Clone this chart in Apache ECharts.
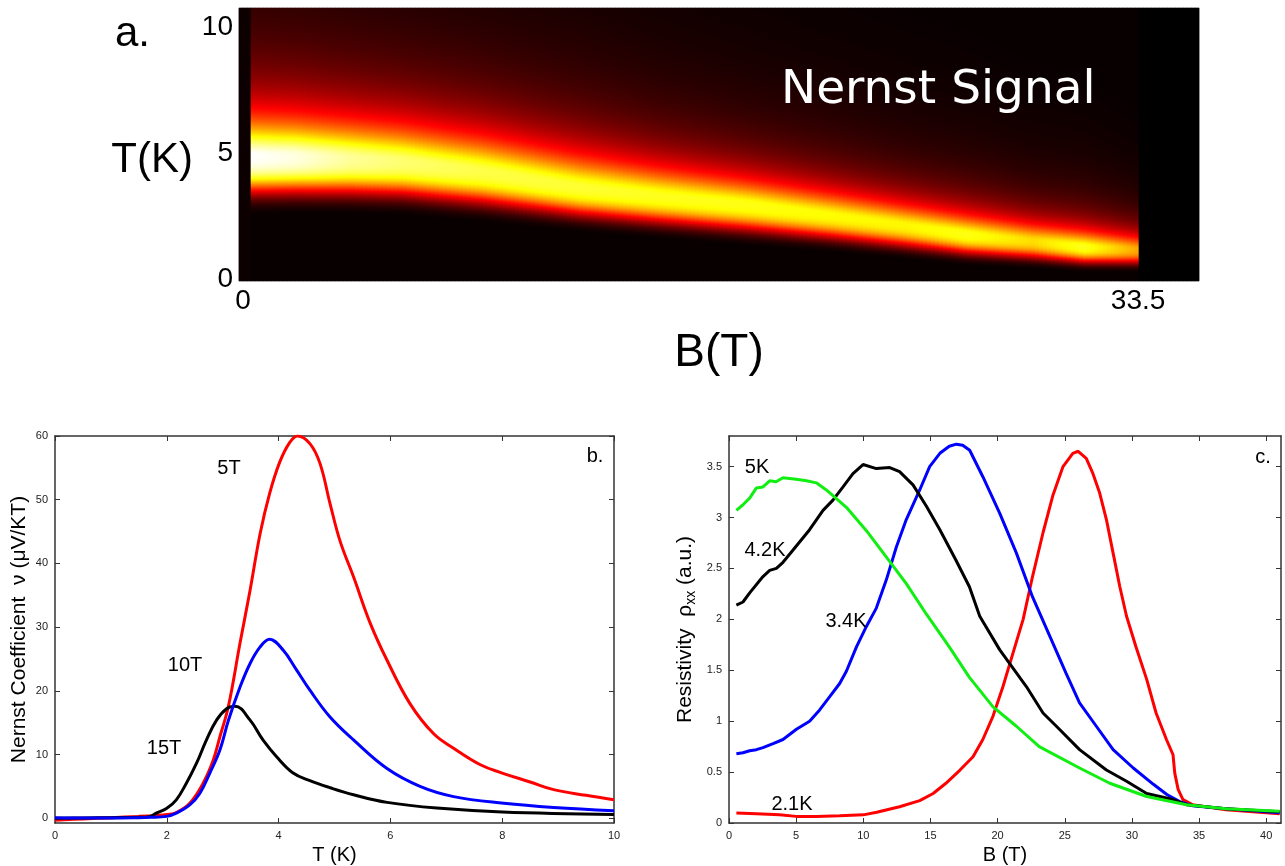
<!DOCTYPE html>
<html>
<head>
<meta charset="utf-8">
<script src="https://cdn.jsdelivr.net/npm/echarts@6/dist/echarts.min.js"></script>
<style>
  html, body { margin: 0; padding: 0; background: #ffffff; }
  #chart { width: 1285px; height: 866px; }
</style>
</head>
<body>
<div id="chart"></div>
<script>
// ---------- Panel a: Nernst signal map, ridge profile along B ----------
const ridgeB     = [0.3, 2, 4, 6, 9, 12.6, 15.5, 18.9, 22, 24.8, 27.1, 29.6, 31.5, 33.5];
const ridgeT     = [4.95, 4.93, 4.86, 4.74, 4.36, 3.72, 3.38, 3.02, 2.6, 2.2, 1.83, 1.56, 1.32, 1.22];
const ridgePeak  = [1.0, 0.97, 0.9, 0.86, 0.82, 0.8, 0.78, 0.77, 0.75, 0.74, 0.77, 0.7, 0.78, 0.62];
const ridgeUpper = [1.39, 1.38, 1.37, 1.35, 1.32, 1.25, 1.12, 1.0, 0.92, 0.84, 0.78, 0.72, 0.66, 0.6];
const ridgeLower = [1.45, 1.43, 1.4, 1.36, 1.3, 1.15, 1.1, 1.05, 0.95, 0.88, 0.8, 0.72, 0.65, 0.6];
const mapBTicks  = [0, 33.5];
const mapTTicks  = [0, 5, 10];

// ---------- Panel b: Nernst coefficient vs T ----------
const nu5T = [[0,-0.3],[0.5,-0.1],[1,0.1],[1.5,0.3],[1.8,0.45],[2.0,0.6],[2.17,0.9],[2.41,2.35],[2.65,5.5],[2.83,9.1],
  [2.95,12.8],[3.1,17.5],[3.31,27.5],[3.49,35.8],[3.67,44.7],[3.84,51],[4.02,55.9],[4.2,59],[4.34,60],[4.56,58.8],
  [4.74,55.7],[4.92,49.4],[5.1,43.5],[5.34,37.9],[5.64,30.6],[5.94,24.8],[6.35,18],[6.77,13.3],[7.13,11],[7.61,8.4],
  [8.0,7.1],[8.5,5.7],[8.92,4.5],[9.5,3.6],[10,2.9]];
const nu10T = [[0,0.1],[0.5,0.05],[1,0.05],[1.5,0.1],[1.69,0.15],[2.0,0.3],[2.17,0.8],[2.41,2.1],[2.59,3.9],[2.77,7.1],
  [2.95,10.7],[3.1,15.3],[3.31,20.6],[3.49,24.3],[3.67,26.9],[3.84,28.1],[4.08,26.4],[4.32,23.3],[4.56,20.1],[4.92,15.9],
  [5.34,12.3],[5.94,7.8],[6.53,5.0],[7.13,3.4],[8.03,2.35],[8.92,1.7],[10,1.2]];
const nu15T = [[0,0],[0.5,0.05],[1,0.1],[1.5,0.15],[1.69,0.25],[1.81,0.8],[2.0,1.57],[2.17,2.9],[2.35,5.5],[2.53,8.6],
  [2.71,12.3],[2.89,15.4],[3.07,17.2],[3.22,17.6],[3.49,15.4],[3.72,12.3],[3.96,9.7],[4.26,7.1],[4.56,5.9],[4.92,4.8],
  [5.34,3.7],[5.94,2.5],[6.83,1.6],[8,1.0],[10,0.6]];
const nernstTTicks = [0, 2, 4, 6, 8, 10];
const nernstYTicks = [0, 10, 20, 30, 40, 50, 60];

// ---------- Panel c: resistivity vs B ----------
const rho5K = [[0.55,3.07],[1.0,3.12],[1.54,3.19],[2.04,3.29],[2.53,3.30],[3.03,3.36],[3.5,3.35],[4.02,3.39],[5.0,3.375],
  [5.76,3.36],[6.5,3.34],[7.25,3.27],[8.74,3.1],[10.23,2.87],[11.72,2.61],[13.2,2.35],[14.7,2.05],[16.4,1.73],[17.9,1.43],
  [19.66,1.14],[21.4,0.95],[23.1,0.75],[26.1,0.54],[28.35,0.39],[31.1,0.26],[34.06,0.18],[37.0,0.14],[41,0.115]];
const rho42K = [[0.55,2.14],[1.04,2.17],[1.54,2.26],[2.53,2.42],[3.03,2.48],[3.53,2.50],[4.02,2.56],[4.77,2.68],[6.0,2.88],
  [7.0,3.07],[7.74,3.17],[8.49,3.30],[9.23,3.43],[9.98,3.52],[10.97,3.48],[11.97,3.49],[12.7,3.45],[13.7,3.32],[14.7,3.11],
  [15.7,2.88],[16.9,2.58],[17.9,2.32],[18.67,2.03],[20.16,1.70],[22.14,1.34],[23.38,1.08],[24.6,0.92],[26.1,0.72],
  [28.1,0.52],[29.6,0.41],[31.1,0.29],[33.06,0.23],[34.06,0.18],[37,0.14],[41,0.11]];
const rho34K = [[0.55,0.68],[1.04,0.69],[1.54,0.71],[2.04,0.72],[2.53,0.74],[3.28,0.78],[4.02,0.82],[5.02,0.92],[6.0,1.0],
  [6.75,1.11],[7.5,1.24],[8.24,1.37],[8.74,1.49],[9.49,1.73],[10.23,1.93],[10.97,2.11],[11.72,2.39],[12.46,2.71],
  [13.2,2.98],[14.2,3.27],[14.94,3.50],[15.7,3.63],[16.4,3.70],[16.93,3.72],[17.4,3.71],[17.92,3.66],[18.9,3.40],
  [20.16,3.04],[21.4,2.65],[22.6,2.22],[23.9,1.83],[25.1,1.47],[26.1,1.18],[27.35,0.95],[28.6,0.72],[30.1,0.54],
  [31.6,0.38],[32.6,0.28],[33.56,0.21],[34.5,0.17],[37,0.14],[41,0.1]];
const rho21K = [[0.55,0.098],[2.04,0.09],[3.77,0.08],[5.0,0.065],[6.5,0.065],[8.24,0.07],[10.0,0.08],[11.0,0.105],
  [12.7,0.16],[14.2,0.22],[15.2,0.29],[16.15,0.39],[17.2,0.52],[18.17,0.65],[18.9,0.82],[19.66,1.05],[20.4,1.34],
  [21.15,1.67],[21.9,2.0],[22.6,2.42],[23.38,2.85],[24.1,3.21],[24.87,3.50],[25.6,3.63],[26.0,3.65],[26.6,3.58],
  [27.1,3.43],[27.6,3.24],[28.1,2.98],[28.6,2.65],[29.1,2.32],[29.6,2.03],[30.3,1.73],[31.1,1.41],[31.8,1.08],
  [32.57,0.82],[33.06,0.67],[33.19,0.49],[33.44,0.33],[33.8,0.23],[34.5,0.18],[37,0.13],[41,0.09]];
const rhoBTicks = [0, 5, 10, 15, 20, 25, 30, 35, 40];
const rhoYTicks = [0, 0.5, 1, 1.5, 2, 2.5, 3, 3.5];

// ---------- map cell grid (4 px columns, 1 px rows) ----------
const MAP_B_RANGE = [-0.15, 35.78];
const MAP_T_RANGE = [-0.08, 10.78];
const MAP_COLS = 240, MAP_ROWS = 273;

function ridgeParam(arr, b) {
  for (let k = 0; k < ridgeB.length - 1; k++) {
    if (b <= ridgeB[k + 1]) {
      const f = (b - ridgeB[k]) / (ridgeB[k + 1] - ridgeB[k]);
      return arr[k] + f * (arr[k + 1] - arr[k]);
    }
  }
  return arr[arr.length - 1];
}
// signal level of one cell: sharp fall below the ridge, long tail above it
function cellSignal(b, t) {
  if (b < ridgeB[0]) return 0.02;
  if (b > ridgeB[ridgeB.length - 1]) return 0;
  const tc = ridgeParam(ridgeT, b);
  const p = ridgeParam(ridgePeak, b);
  const wu = ridgeParam(ridgeUpper, b);
  const wl = ridgeParam(ridgeLower, b);
  const d = t - tc;
  const v = d >= 0 ? p / (1 + Math.pow(d / wu, 1.7)) : p * Math.exp(-Math.pow(-d / wl, 3));
  return Math.max(v, 0.012);
}
const cellB = [], cellT = [], mapCells = [];
const dB = (MAP_B_RANGE[1] - MAP_B_RANGE[0]) / MAP_COLS;
const dT = (MAP_T_RANGE[1] - MAP_T_RANGE[0]) / MAP_ROWS;
for (let i = 0; i < MAP_COLS; i++) cellB.push((MAP_B_RANGE[0] + (i + 0.5) * dB).toFixed(3));
for (let j = 0; j < MAP_ROWS; j++) cellT.push((MAP_T_RANGE[0] + (j + 0.5) * dT).toFixed(4));
for (let i = 0; i < MAP_COLS; i++) {
  for (let j = 0; j < MAP_ROWS; j++) {
    mapCells.push([i, j, cellSignal(+cellB[i], +cellT[j])]);
  }
}

// ---------- styling helpers ----------
const FONT = "'Liberation Sans', Arial, Helvetica, sans-serif";
const AXIS_COLOR = '#333333';

function framedAxes(dim, gridIndex, min, max, ticks, labelMargin, nameOpt) {
  const main = {
    type: 'value', gridIndex, min, max,
    position: dim === 'x' ? 'bottom' : 'left',
    axisLine: { show: true, onZero: false, lineStyle: { color: AXIS_COLOR, width: 1.5 } },
    axisTick: { show: true, inside: true, length: 5, customValues: ticks, lineStyle: { color: AXIS_COLOR, width: 1 } },
    axisLabel: { show: true, customValues: ticks, fontSize: 11, color: '#222222', fontFamily: FONT, margin: labelMargin },
    splitLine: { show: false },
    nameMoveOverlap: false
  };
  Object.assign(main, nameOpt);
  const mirror = {
    type: 'value', gridIndex, min, max,
    position: dim === 'x' ? 'top' : 'right',
    axisLine: { show: true, onZero: false, lineStyle: { color: AXIS_COLOR, width: 1.5 } },
    axisTick: { show: true, inside: true, length: 5, customValues: ticks, lineStyle: { color: AXIS_COLOR, width: 1 } },
    axisLabel: { show: false },
    splitLine: { show: false }
  };
  return [main, mirror];
}

function lineSeries(data, color, xi, yi, smooth) {
  return {
    type: 'line', data, xAxisIndex: xi, yAxisIndex: yi,
    showSymbol: false, symbol: 'none',
    smooth: smooth,
    lineStyle: { color, width: 3 },
    emphasis: { disabled: true },
    silent: true
  };
}

function label(text, x, y, size, color, align, family) {
  return {
    type: 'text', x, y, z: 100, silent: true,
    style: { text, fill: color || '#000', fontSize: size, fontFamily: family || FONT,
             align: align || 'center', verticalAlign: 'middle' }
  };
}

const bX = framedAxes('x', 2, 0, 10, nernstTTicks, 7, {
  name: 'T (K)', nameLocation: 'middle', nameGap: 22,
  nameTextStyle: { fontSize: 20, color: '#000', fontFamily: FONT }
});
const bY = framedAxes('y', 2, -0.74, 60, nernstYTicks, 7, {
  name: 'Nernst Coefficient  \u03bd (\u03bcV/KT)', nameLocation: 'middle', nameGap: 25,
  nameTextStyle: { fontSize: 21, color: '#000', fontFamily: FONT }
});
const cX = framedAxes('x', 3, 0, 41.1, rhoBTicks, 7, {
  name: 'B (T)', nameLocation: 'middle', nameGap: 22,
  nameTextStyle: { fontSize: 20, color: '#000', fontFamily: FONT }
});
const cY = framedAxes('y', 3, 0, 3.8, rhoYTicks, 7, {
  name: '{a|Resistivity  \u03c1}{s|xx}{a| (a.u.)}', nameLocation: 'middle', nameGap: 31,
  nameTextStyle: {
    rich: {
      a: { fontSize: 21, lineHeight: 26, color: '#000', fontFamily: FONT, verticalAlign: 'middle' },
      s: { fontSize: 14, lineHeight: 12, color: '#000', fontFamily: FONT, verticalAlign: 'bottom' }
    }
  }
});

const option = {
  animation: false,
  backgroundColor: '#ffffff',
  textStyle: { fontFamily: FONT },
  grid: [
    { left: 239, top: 8, width: 960, height: 273, containLabel: false, outerBoundsMode: 'none' },
    { left: 239, top: 8, width: 960, height: 273, containLabel: false, outerBoundsMode: 'none',
      show: true, borderColor: '#c4c4c4', borderWidth: 1, backgroundColor: 'transparent' },
    { left: 55, top: 436, width: 559, height: 387, containLabel: false, outerBoundsMode: 'none' },
    { left: 729, top: 436, width: 552, height: 387, containLabel: false, outerBoundsMode: 'none' }
  ],
  xAxis: [
    { type: 'category', gridIndex: 0, data: cellB, show: false },
    { type: 'value', gridIndex: 1, min: MAP_B_RANGE[0], max: MAP_B_RANGE[1], position: 'bottom',
      axisLine: { show: false, onZero: false }, axisTick: { show: false }, splitLine: { show: false },
      axisLabel: { customValues: mapBTicks, fontSize: 28, color: '#000', fontFamily: FONT, margin: 6 },
      name: 'B(T)', nameLocation: 'middle', nameGap: 49, nameMoveOverlap: false,
      nameTextStyle: { fontSize: 46, color: '#000', fontFamily: FONT } },
    bX[0], bX[1], cX[0], cX[1]
  ],
  yAxis: [
    { type: 'category', gridIndex: 0, data: cellT, show: false },
    { type: 'value', gridIndex: 1, min: MAP_T_RANGE[0], max: MAP_T_RANGE[1], position: 'left',
      axisLine: { show: false, onZero: false }, axisTick: { show: false }, splitLine: { show: false },
      axisLabel: { customValues: mapTTicks, fontSize: 28, color: '#000', fontFamily: FONT, margin: 6 },
      name: 'T(K)', nameLocation: 'middle', nameRotate: 0, nameGap: 46, nameMoveOverlap: false,
      nameTextStyle: { fontSize: 42, lineHeight: 32, verticalAlign: 'top', color: '#000', fontFamily: FONT } },
    bY[0], bY[1], cY[0], cY[1]
  ],
  visualMap: {
    type: 'continuous', show: false, seriesIndex: 0, min: 0, max: 1, dimension: 2,
    inRange: { color: ['#000000', '#550000', '#aa0000', '#ff0000', '#ff5500', '#ffaa00', '#ffff00', '#ffff80', '#ffffff'] }
  },
  series: [
    { type: 'heatmap', xAxisIndex: 0, yAxisIndex: 0, data: mapCells, progressive: 0,
      itemStyle: { borderWidth: 0 }, emphasis: { disabled: true }, silent: true },
    lineSeries(nu5T, '#ff0000', 2, 2, 0.4),
    lineSeries(nu15T, '#000000', 2, 2, 0.4),
    lineSeries(nu10T, '#0000ff', 2, 2, 0.4),
    lineSeries(rho21K, '#ff0000', 4, 4, false),
    lineSeries(rho34K, '#0000ff', 4, 4, false),
    lineSeries(rho42K, '#000000', 4, 4, false),
    lineSeries(rho5K, '#11ee11', 4, 4, false)
  ],
  graphic: [
    label('a.', 115, 34, 42, '#000', 'left'),
    label('Nernst Signal', 781, 91, 47, '#ffffff', 'left', "'DejaVu Sans', sans-serif"),
    label('5T', 229, 468, 20),
    label('10T', 185, 665, 20),
    label('15T', 164, 748, 20),
    label('b.', 595, 456, 20),
    label('5K', 757, 467, 20),
    label('4.2K', 765, 550, 20),
    label('3.4K', 846, 621, 20),
    label('2.1K', 792, 804, 20),
    label('c.', 1263, 457, 20)
  ]
};

const chart = echarts.init(document.getElementById('chart'), null, { renderer: 'canvas' });
chart.setOption(option);
</script>
</body>
</html>
